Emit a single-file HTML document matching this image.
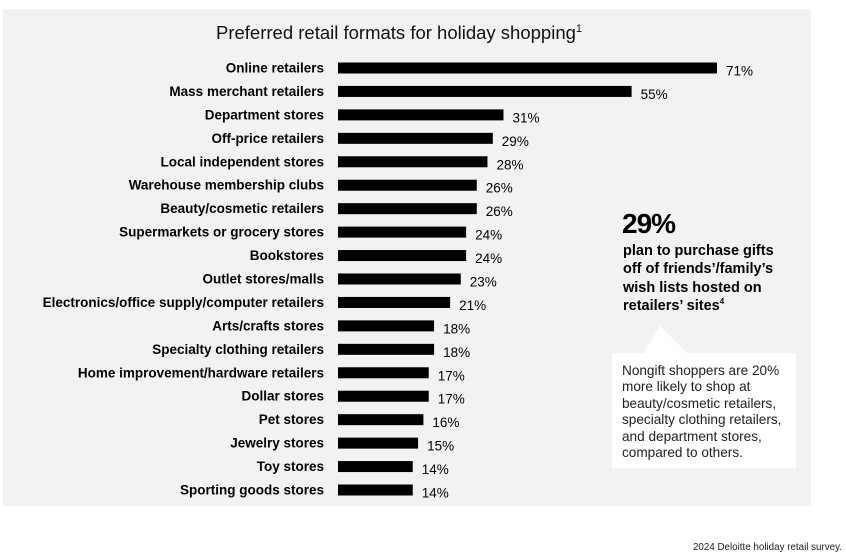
<!DOCTYPE html>
<html><head><meta charset="utf-8"><style>
body{margin:0;width:846px;height:558px;background:#fff;font-family:"Liberation Sans",sans-serif;position:relative;overflow:hidden}
#panel{position:absolute;left:3px;top:9px;width:808px;height:497px;background:#f2f2f2}
.t{position:absolute;white-space:nowrap}
sup{line-height:0}
</style></head><body>
<div id="panel"></div>
<div class="t" style="left:216px;top:22px;font-size:18.5px;color:#111">Preferred retail formats for holiday shopping<sup style="font-size:11px">1</sup></div>
<svg id="chart" width="846" height="558" style="position:absolute;left:0;top:0"></svg>
<div class="t" style="left:622px;top:208px;font-size:28px;font-weight:900;letter-spacing:-1px">29%</div>
<div class="t" style="left:623px;top:242px;font-size:14.5px;font-weight:bold;line-height:18.3px">plan to purchase gifts<br>off of friends’/family’s<br>wish lists hosted on<br>retailers’ sites<sup style="font-size:8px">4</sup></div>
<svg width="846" height="558" style="position:absolute;left:0;top:0"><polygon points="643,354 660,326 688,354" fill="#fff"/><rect x="612" y="353" width="184" height="115" fill="#fff"/></svg>
<div class="t" style="left:622px;top:363px;font-size:13.6px;line-height:16.4px;color:#222">Nongift shoppers are 20%<br>more likely to shop at<br>beauty/cosmetic retailers,<br>specialty clothing retailers,<br>and department stores,<br>compared to others.</div>
<div class="t" style="right:4px;top:542px;font-size:9.8px;color:#222">2024 Deloitte holiday retail survey.</div>
<script>
const categories=["Online retailers","Mass merchant retailers","Department stores","Off-price retailers","Local independent stores","Warehouse membership clubs","Beauty/cosmetic retailers","Supermarkets or grocery stores","Bookstores","Outlet stores/malls","Electronics/office supply/computer retailers","Arts/crafts stores","Specialty clothing retailers","Home improvement/hardware retailers","Dollar stores","Pet stores","Jewelry stores","Toy stores","Sporting goods stores"];
const values=[71,55,31,29,28,26,26,24,24,23,21,18,18,17,17,16,15,14,14];
const svg=document.getElementById('chart');
const NS='http://www.w3.org/2000/svg';
const x0=338,pxPer=379/71,y0=68,step=(490-68)/(categories.length-1);
const xs=v=>x0+v*pxPer, ys=i=>y0+i*step;
categories.forEach((c,i)=>{
 const r=document.createElementNS(NS,'rect');
 r.setAttribute('x',x0);r.setAttribute('y',ys(i)-5.5);r.setAttribute('width',xs(values[i])-x0);r.setAttribute('height',11);r.setAttribute('fill','#000');
 
 
 svg.appendChild(r);
 const l=document.createElementNS(NS,'text');
 l.setAttribute('x',324);l.setAttribute('y',ys(i)+4.5);l.setAttribute('text-anchor','end');l.setAttribute('font-size','13.5');l.setAttribute('font-weight','bold');l.setAttribute('font-family','Liberation Sans, sans-serif');l.textContent=c;
 
 
 svg.appendChild(l);
 const v=document.createElementNS(NS,'text');
 v.setAttribute('x',xs(values[i])+9);v.setAttribute('y',ys(i)+7.5);v.setAttribute('font-size','13.5');v.setAttribute('font-family','Liberation Sans, sans-serif');v.textContent=values[i]+'%';
 
 
 svg.appendChild(v);
});
</script>
</body></html>
